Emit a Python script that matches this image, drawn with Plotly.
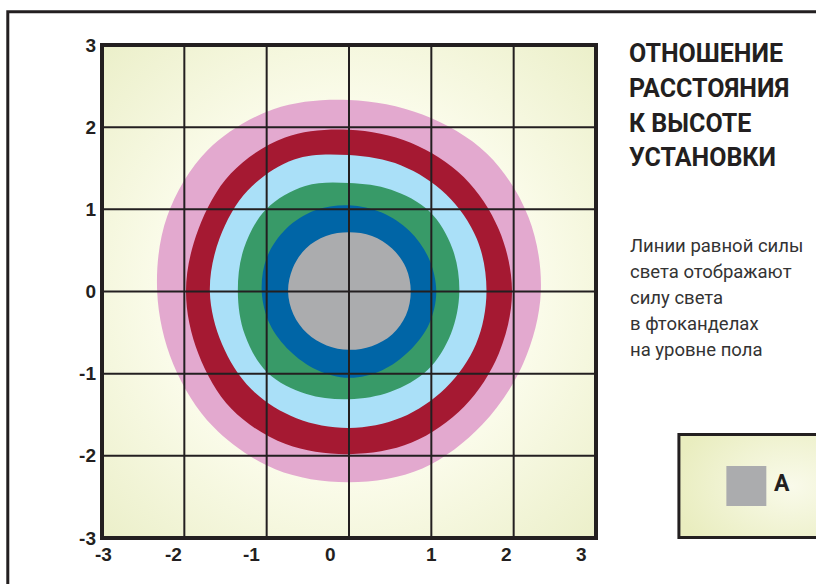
import base64
import numpy as np
import plotly.graph_objects as go

W, H = 816, 584
# plot area (frame line centres) in page pixels
PL, PR, PT, PB = 102.0, 596.5, 44.5, 538.0

# ---------------- data ----------------
ANGLES_DEG = [0, 22.5, 45, 67.5, 90, 112.5, 135, 157.5,
              180, 202.5, 225, 247.5, 270, 292.5, 315, 337.5]

RING_NAMES = ["pink", "crimson", "lightblue", "green", "blue", "A"]
RING_COLORS = ["#e3a9cf", "#a51932", "#aae0f8", "#389a68", "#0065a6", "#abacae"]

R_PINK = [2.33, 2.36, 2.37, 2.33, 2.33, 2.40, 2.43, 2.39,
          2.33, 2.31, 2.33, 2.34, 2.32, 2.33, 2.29, 2.29]
R_CRIMSON = [1.98, 1.97, 1.97, 1.96, 1.97, 2.03, 2.03, 1.98,
             1.98, 1.98, 2.02, 2.01, 1.98, 1.99, 1.98, 1.97]
R_LIGHTBLUE = [1.67, 1.68, 1.67, 1.66, 1.66, 1.74, 1.74, 1.70,
               1.69, 1.67, 1.68, 1.67, 1.66, 1.66, 1.66, 1.67]
R_GREEN = [1.34, 1.36, 1.38, 1.34, 1.32, 1.39, 1.42, 1.38,
           1.35, 1.37, 1.40, 1.35, 1.31, 1.32, 1.35, 1.34]
R_BLUE = [1.06, 1.05, 1.04, 1.04, 1.05, 1.07, 1.08, 1.08,
          1.06, 1.04, 1.02, 1.03, 1.05, 1.04, 1.03, 1.05]
R_GRAY = [0.75, 0.75, 0.74, 0.73, 0.72, 0.73, 0.74, 0.74,
          0.74, 0.73, 0.72, 0.71, 0.71, 0.72, 0.74, 0.75]
RINGS = [R_PINK, R_CRIMSON, R_LIGHTBLUE, R_GREEN, R_BLUE, R_GRAY]

AXIS_RANGE = [-3, 3]
GRID_VALUES = [-2, -1, 0, 1, 2]
Y_TICKS = [-3, -2, -1, 0, 1, 2, 3]
Y_TICK_LABELS = ["-3", "-2", "-1", "0", "1", "2", "3"]
X_TICK_LABELS = ["-3", "-2", "-1", "0", "1", "2", "3"]
X_TICK_LABEL_POS = [-2.98, -2.13, -1.18, -0.23, 1.00, 1.91, 2.82]

TITLE_LINES = ["ОТНОШЕНИЕ", "РАССТОЯНИЯ", "К ВЫСОТЕ", "УСТАНОВКИ"]
NOTE_LINES = ["Линии равной силы", "света отображают", "силу света",
              "в фтоканделах", "на уровне пола"]
LEGEND_LABEL = "A"

# ---------------- helpers ----------------
def px(xp):
    return (xp - PL) / (PR - PL)

def py(yp):
    return (PB - yp) / (PB - PT)

def svg_uri(svg):
    return "data:image/svg+xml;base64," + base64.b64encode(svg.encode()).decode()

INK = "#231f20"
TITLE_FONT = "Roboto, Liberation Sans, sans-serif"
NUM_FONT = "Liberation Sans, Arial, sans-serif"

fig = go.Figure()

# rings (outer first)
for name, color, radii in zip(RING_NAMES, RING_COLORS, RINGS):
    th = np.deg2rad(ANGLES_DEG)
    r = np.array(radii)
    xs = list(r * np.cos(th))
    ys = list(r * np.sin(th))
    xs += xs[:3]
    ys += ys[:3]
    fig.add_trace(go.Scatter(
        x=xs, y=ys, mode="lines", fill="toself", fillcolor=color,
        line=dict(color=color, width=0, shape="spline", smoothing=1.0),
        hoverinfo="skip", showlegend=False, name=name))

# grid lines drawn above the rings
gx, gy = [], []
for v in GRID_VALUES:
    gx += [v, v, None]
    gy += [AXIS_RANGE[0], AXIS_RANGE[1], None]
    gx += [AXIS_RANGE[0], AXIS_RANGE[1], None]
    gy += [v, v, None]
fig.add_trace(go.Scatter(x=gx, y=gy, mode="lines",
                         line=dict(color=INK, width=2),
                         hoverinfo="skip", showlegend=False))

# background gradients
bg_svg = ('<svg xmlns="http://www.w3.org/2000/svg" width="100" height="100" '
          'viewBox="0 0 100 100" preserveAspectRatio="none">'
          '<defs><radialGradient id="g" cx="50%" cy="50%" r="71%">'
          '<stop offset="0" stop-color="#fefef6"/>'
          '<stop offset="0.55" stop-color="#fafbe9"/>'
          '<stop offset="1" stop-color="#ebefc9"/>'
          '</radialGradient></defs>'
          '<rect width="100" height="100" fill="url(#g)"/></svg>')
leg_svg = ('<svg xmlns="http://www.w3.org/2000/svg" width="100" height="100" '
           'viewBox="0 0 100 100" preserveAspectRatio="none">'
           '<defs><radialGradient id="g" cx="75%" cy="50%" r="80%">'
           '<stop offset="0" stop-color="#f9faea"/>'
           '<stop offset="1" stop-color="#e9edbf"/>'
           '</radialGradient></defs>'
           '<rect width="100" height="100" fill="url(#g)"/></svg>')

LEG_L, LEG_T, LEG_R, LEG_B = 679.5, 434.5, 830.0, 537.5
images = [
    dict(source=svg_uri(bg_svg), xref="paper", yref="paper", x=0, y=1,
         sizex=1, sizey=1, sizing="stretch", layer="below", xanchor="left", yanchor="top"),
    dict(source=svg_uri(leg_svg), xref="paper", yref="paper", x=px(LEG_L), y=py(LEG_T),
         sizex=px(LEG_R) - px(LEG_L), sizey=py(LEG_T) - py(LEG_B), sizing="stretch",
         layer="below", xanchor="left", yanchor="top"),
]

shapes = [
    # outer frame (open to the right/bottom edges)
    dict(type="path", xref="paper", yref="paper",
         path=f"M {px(7.7)},{py(600)} L {px(7.7)},{py(11.3)} L {px(830)},{py(11.3)}",
         line=dict(color=INK, width=3)),
    # plot frame
    dict(type="rect", xref="paper", yref="paper", x0=0, x1=1, y0=0, y1=1,
         line=dict(color=INK, width=4), fillcolor="rgba(0,0,0,0)"),
    # legend box
    dict(type="rect", xref="paper", yref="paper",
         x0=px(LEG_L), x1=px(LEG_R), y0=py(LEG_B), y1=py(LEG_T),
         line=dict(color=INK, width=3), fillcolor="rgba(0,0,0,0)"),
    dict(type="rect", xref="paper", yref="paper",
         x0=px(727), x1=px(767), y0=py(506), y1=py(466),
         line=dict(width=0), fillcolor=RING_COLORS[-1]),
]

annotations = []
for lab, pos in zip(X_TICK_LABELS, X_TICK_LABEL_POS):
    annotations.append(dict(text=lab, x=pos, xref="x", y=py(555), yref="paper",
                            xanchor="center", yanchor="middle", showarrow=False,
                            font=dict(family=NUM_FONT, size=19, color=INK, weight="bold")))
TITLE_Y = [53.3, 88.0, 122.7, 157.4]
for line, yc in zip(TITLE_LINES, TITLE_Y):
    annotations.append(dict(text=line, x=px(628), y=py(yc),
                            xref="paper", yref="paper", xanchor="left", yanchor="middle",
                            showarrow=False,
                            font=dict(family=TITLE_FONT, size=25, color=INK, weight="bold")))
NOTE_Y = [246.0, 272.0, 297.8, 323.6, 349.5]
for line, yc in zip(NOTE_LINES, NOTE_Y):
    annotations.append(dict(text=line, x=px(629), y=py(yc),
                            xref="paper", yref="paper", xanchor="left", yanchor="middle",
                            showarrow=False,
                            font=dict(family=TITLE_FONT, size=18.5, color="#333333")))
annotations.append(dict(text=LEGEND_LABEL, x=px(773), y=py(483.5),
                        xref="paper", yref="paper", xanchor="left", yanchor="middle",
                        showarrow=False,
                        font=dict(family=TITLE_FONT, size=23, color=INK, weight="bold")))

fig.update_layout(
    width=W, height=H,
    margin=dict(l=PL, r=W - PR, t=PT, b=H - PB, pad=0),
    paper_bgcolor="white", plot_bgcolor="rgba(0,0,0,0)",
    images=images, shapes=shapes, annotations=annotations,
    showlegend=False,
    xaxis=dict(range=AXIS_RANGE, showgrid=False, zeroline=False,
               showticklabels=False, ticks="", showline=False, fixedrange=True),
    yaxis=dict(range=AXIS_RANGE, showgrid=False, zeroline=False,
               tickvals=Y_TICKS, ticktext=Y_TICK_LABELS, ticks="",
               ticklabelstandoff=5,
               tickfont=dict(family=NUM_FONT, size=19, color=INK, weight="bold"),
               showline=False, fixedrange=True),
)

fig.write_html("out.html",
               config={"displayModeBar": False, "staticPlot": True},
               post_script="document.body.style.margin='0';document.body.style.overflow='hidden';")
